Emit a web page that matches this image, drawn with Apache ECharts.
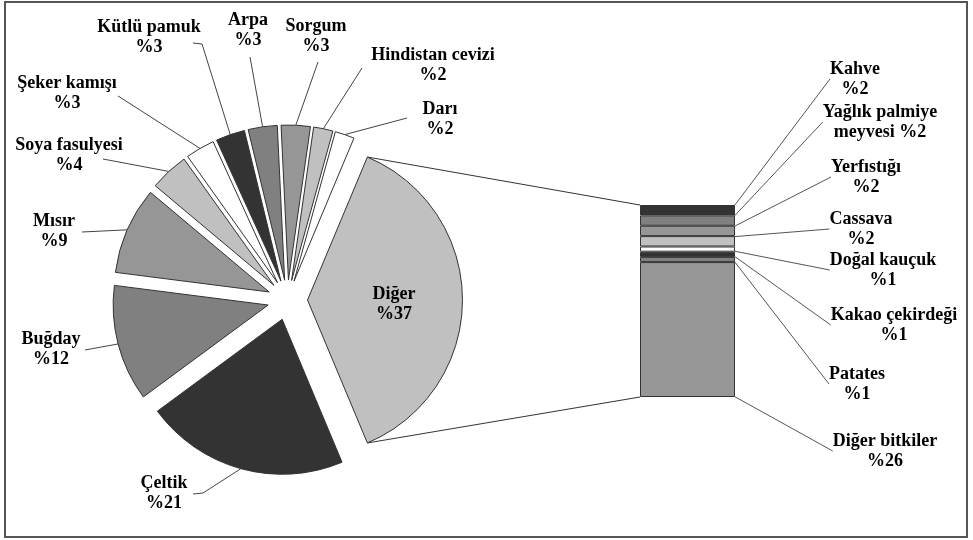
<!DOCTYPE html>
<html>
<head>
<meta charset="utf-8">
<title>Bitkiler</title>
<script src="https://cdn.jsdelivr.net/npm/echarts@6/dist/echarts.min.js"></script>
<style>
  html, body { margin: 0; padding: 0; background: #fff; }
  #chart { width: 973px; height: 540px; }
</style>
</head>
<body>
<div id="chart"></div>
<script>
// pasta dilimleri (%)
const pieNames = ['Çeltik', 'Buğday', 'Mısır', 'Soya fasulyesi', 'Şeker kamışı', 'Kütlü pamuk', 'Arpa', 'Sorgum', 'Hindistan cevizi', 'Darı', 'Diğer'];
const pieValues = [21, 12, 9, 4, 3, 3, 3, 3, 2, 2, 37];
// "Diğer" diliminin dağılımı (çubuk, yukarıdan aşağı)
const barNames = ['Kahve', 'Yağlık palmiye meyvesi', 'Yerfıstığı', 'Cassava', 'Doğal kauçuk', 'Kakao çekirdeği', 'Patates', 'Diğer bitkiler'];
const barValues = [2, 2, 2, 2, 1, 1, 1, 26];

const pieColors = ['#333333', '#808080', '#969696', '#c0c0c0', '#ffffff', '#333333', '#808080', '#969696', '#c0c0c0', '#ffffff', '#c0c0c0'];
const barColors = ['#333333', '#808080', '#969696', '#c0c0c0', '#ffffff', '#333333', '#808080', '#969696'];

// yerleşim
const C = [287.5, 300], R = 155, EXPLODE = 20;
const barBox = { left: 640, right: 238, top: 205, bottom: 143 };
const pieLabelAt = [[164, 493], [51, 349], [54, 231], [69, 155], [67, 93], [149, 37], [248, 30], [316, 36], [433, 65], [440, 119], [394, 304]];
// kılavuz çizgisinin etiket tarafındaki kırılma ve bitiş noktaları
const pieLineEnd = [[[203, 493], [193, 494]], [[85, 350], [85, 350]], [[82, 232], [82, 232]], [[103, 159], [103, 159]],
                    [[118, 96], [118, 96]], [[202, 44], [193, 43]], [[250, 57], [250, 57]], [[318, 62], [318, 62]],
                    [[362, 68], [362, 68]], [[407, 118], [407, 118]], null];
const barLabelAt = [[855, 79], [880, 122], [866, 177], [861, 229], [883, 270], [894, 325], [857, 384], [885, 451]];
const lineEndX = 821;
const font = { fontFamily: 'Liberation Serif', fontWeight: 'bold', fontSize: 18, lineHeight: 20, color: '#000' };

const chart = echarts.init(document.getElementById('chart'));

const total = pieValues.reduce(function (a, b) { return a + b; }, 0);
const barTotal = barValues.reduce(function (a, b) { return a + b; }, 0);
const otherIdx = pieNames.length - 1;
const startAngle = -pieValues[otherIdx] / total * 180;   // Diğer saat 3 yönünde ortalanır

function wrapName(s) {
    return s.length > 16 ? s.replace(/ (\S+)$/, '\n$1') : s;
}

// her dilim kendi serisinde, orta açısı boyunca dışarı kaydırılmış
let acc = 0;
const pieSeries = pieValues.map(function (v, i) {
    const mid = (startAngle - (acc + v / 2) / total * 360) * Math.PI / 180;
    acc += v;
    const inside = i === otherIdx;
    return {
        type: 'pie',
        silent: true,
        radius: R,
        startAngle: startAngle,
        clockwise: true,
        avoidLabelOverlap: false,
        center: [C[0] + EXPLODE * Math.cos(mid), C[1] - EXPLODE * Math.sin(mid)],
        label: Object.assign({ position: inside ? 'inside' : 'outside', formatter: '{b}\n%{c}' }, font),
        labelLine: { length: 10, length2: 10, lineStyle: { color: '#444', width: 1 } },
        labelLayout: function (p) {
            const res = { x: pieLabelAt[i][0], y: pieLabelAt[i][1], align: 'center', verticalAlign: 'middle' };
            const ends = pieLineEnd[i];
            if (ends && p.labelLinePoints && p.labelLinePoints[0]) {
                res.labelLinePoints = [p.labelLinePoints[0].slice(), ends[0], ends[1]];
            }
            return res;
        },
        data: pieValues.map(function (w, j) {
            const own = j === i;
            return {
                name: pieNames[j],
                value: w,
                itemStyle: own ? { color: pieColors[j], borderColor: '#333', borderWidth: 1 }
                               : { color: 'rgba(0,0,0,0)', borderWidth: 0 },
                label: { show: own },
                labelLine: { show: own && !inside }
            };
        })
    };
});

// çubuk: en alttaki dilim ilk seri
const barSeries = [];
for (let k = barNames.length - 1; k >= 0; k--) {
    (function (k) {
        barSeries.push({
            type: 'bar',
            name: barNames[k],
            stack: 'diger',
            silent: true,
            barWidth: '100%',
            data: [barValues[k]],
            itemStyle: { color: barColors[k], borderColor: '#333', borderWidth: 1 },
            label: Object.assign({
                show: true,
                position: 'right',
                formatter: function (p) {
                    const t = wrapName(p.seriesName);
                    return t + (t.indexOf('\n') >= 0 ? ' ' : '\n') + '%' + p.value;
                }
            }, font),
            labelLine: { show: true, lineStyle: { color: '#555', width: 1 } },
            labelLayout: function (p) {
                const at = barLabelAt[k];
                return {
                    x: at[0], y: at[1], align: 'center', verticalAlign: 'middle',
                    labelLinePoints: [[p.rect.x + p.rect.width, p.rect.y + p.rect.height / 2], [lineEndX, at[1]], [lineEndX, at[1]]]
                };
            }
        });
    })(k);
}

chart.setOption({
    backgroundColor: '#fff',
    animation: false,
    grid: Object.assign({ containLabel: false }, barBox),
    xAxis: { type: 'category', data: ['Diğer'], show: false },
    yAxis: { type: 'value', min: 0, max: barTotal, show: false },
    series: pieSeries.concat(barSeries)
});

// Diğer dilimi ile çubuk arasındaki bağlantı çizgileri
const half = pieValues[otherIdx] / total * Math.PI;
const oc = [C[0] + EXPLODE, C[1]];
const pTop = [oc[0] + R * Math.cos(half), oc[1] - R * Math.sin(half)];
const pBot = [oc[0] + R * Math.cos(half), oc[1] + R * Math.sin(half)];
const yTop = chart.convertToPixel({ yAxisIndex: 0 }, barTotal);
const yBot = chart.convertToPixel({ yAxisIndex: 0 }, 0);

chart.setOption({
    graphic: [
        { type: 'rect', silent: true, shape: { x: 5, y: 2, width: 962, height: 535 },
          style: { fill: 'none', stroke: '#555', lineWidth: 2 } },
        { type: 'line', silent: true, shape: { x1: pTop[0], y1: pTop[1], x2: barBox.left, y2: yTop },
          style: { stroke: '#333', lineWidth: 1 } },
        { type: 'line', silent: true, shape: { x1: pBot[0], y1: pBot[1], x2: barBox.left, y2: yBot },
          style: { stroke: '#333', lineWidth: 1 } }
    ]
});
</script>
</body>
</html>
